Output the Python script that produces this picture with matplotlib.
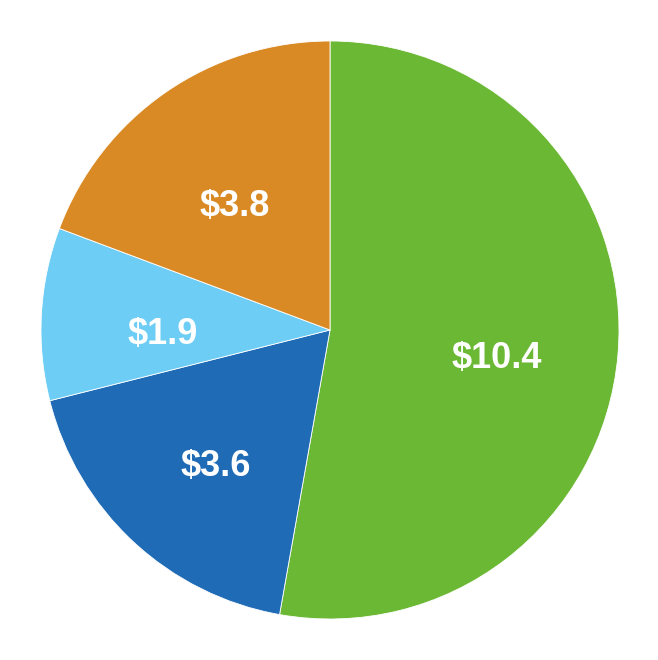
import matplotlib
matplotlib.use("Agg")
import matplotlib.pyplot as plt
from matplotlib import font_manager

values = [10.4, 3.6, 1.9, 3.8]
labels = ["$10.4", "$3.6", "$1.9", "$3.8"]
colors = ["#6BB834", "#1F6BB5", "#6DCDF4", "#D98A25"]

names = {f.name for f in font_manager.fontManager.ttflist}
fam = "Liberation Sans Narrow" if "Liberation Sans Narrow" in names else "Liberation Sans"

fig = plt.figure(figsize=(6.58, 6.60), dpi=100)
r = 289
ax = fig.add_axes([(330 - r) / 658, (330 - r) / 660, 2 * r / 658, 2 * r / 660])
wedges, texts = ax.pie(
    values,
    labels=[l.replace("$", r"\$") for l in labels],
    colors=colors,
    startangle=90,
    counterclock=False,
    labeldistance=0.58,
    radius=1.0,
    wedgeprops=dict(edgecolor="white", linewidth=0.6),
    textprops=dict(color="white", fontsize=26, fontweight="bold", family=fam,
                   ha="center", va="center"),
)
for t in texts:
    t.set_ha("center")
    t.set_va("center")
    x, y = t.get_position()
    t.set_position((x, y - 0.048))
ax.set_xlim(-1, 1)
ax.set_ylim(-1, 1)
ax.set_aspect("equal")
ax.axis("off")
fig.savefig("out.png", dpi=100)
